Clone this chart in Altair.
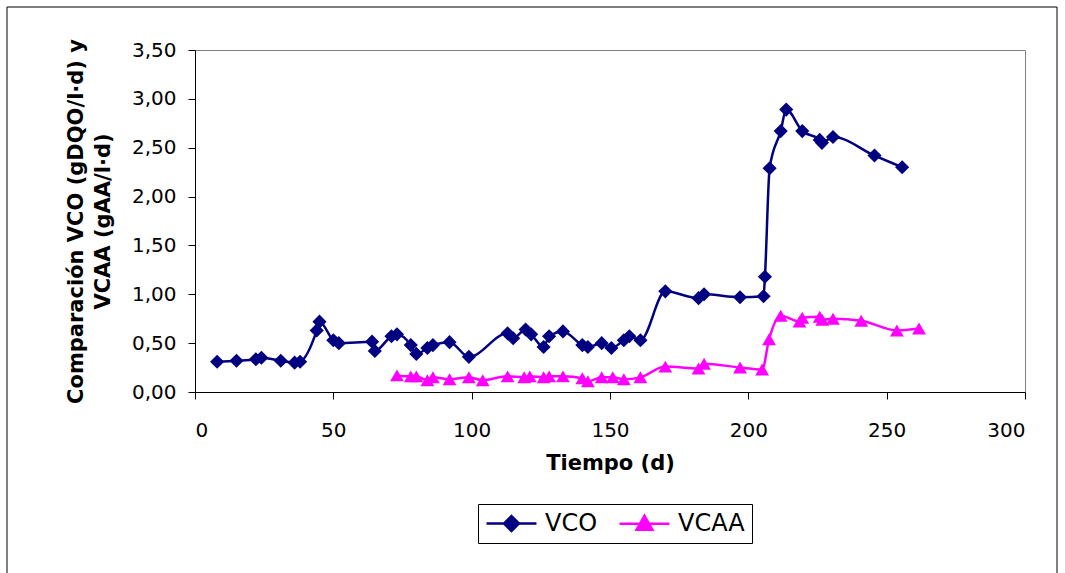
import altair as alt
import pandas as pd

# ---- data ----
vco_dias = [8, 15, 22, 24, 31, 36, 38, 44, 45, 50, 52, 64, 65, 71, 73, 78, 80, 84, 86, 92,
            99, 113, 115, 119.5, 121.5, 126, 128, 133, 140, 142, 147, 150.5, 155, 157, 161,
            170, 182, 184, 197, 205.5, 206, 207.7, 211.7, 213.7, 219.5, 225.8, 226.6, 230.6,
            245.6, 255.6]
vco_valores = [0.31, 0.32, 0.335, 0.35, 0.32, 0.30, 0.31, 0.63, 0.72, 0.53, 0.50, 0.515, 0.42,
               0.57, 0.59, 0.48, 0.39, 0.45, 0.48, 0.51, 0.36, 0.60, 0.55, 0.64, 0.59, 0.46,
               0.57, 0.62, 0.48, 0.46, 0.50, 0.45, 0.53, 0.57, 0.53, 1.03, 0.96, 1.00, 0.97,
               0.98, 1.18, 2.29, 2.67, 2.89, 2.67, 2.58, 2.55, 2.61, 2.42, 2.30]

vcaa_dias = [73, 78, 80, 84, 86, 92, 99, 104, 113, 119, 121, 126, 128, 133, 140, 142, 147, 151,
             155, 161, 170, 182, 184, 197, 205, 207.5, 211.7, 218.5, 219.5, 225.8, 226.7, 230.6,
             240.8, 253.7, 261.7]
vcaa_valores = [0.17, 0.16, 0.16, 0.12, 0.15, 0.13, 0.15, 0.12, 0.16, 0.15, 0.16, 0.15, 0.16,
                0.16, 0.14, 0.11, 0.15, 0.15, 0.13, 0.15, 0.26, 0.24, 0.29, 0.25, 0.23, 0.54,
                0.78, 0.72, 0.76, 0.77, 0.74, 0.75, 0.73, 0.63, 0.65]

series = ["VCO", "VCAA"]
colores = ["#000080", "#FF00FF"]
x_ticks = [0, 50, 100, 150, 200, 250, 300]
y_ticks = [0, 0.5, 1.0, 1.5, 2.0, 2.5, 3.0, 3.5]

df = pd.concat([
    pd.DataFrame({"dia": vco_dias, "valor": vco_valores, "serie": "VCO"}),
    pd.DataFrame({"dia": vcaa_dias, "valor": vcaa_valores, "serie": "VCAA"}),
], ignore_index=True)

FONT = "DejaVu Sans"

x_enc = alt.X("dia:Q", scale=alt.Scale(domain=[0, 300], nice=False, zero=False),
              axis=alt.Axis(values=x_ticks, title="Tiempo (d)", format="d",
                            labelPadding=21, titlePadding=12))
y_enc = alt.Y("valor:Q", scale=alt.Scale(domain=[0, 3.5], nice=False),
              axis=alt.Axis(values=y_ticks,
                            labelExpr="replace(format(datum.value, '.2f'), '.', ',')",
                            title=["Comparación VCO (gDQO/l·d) y", "VCAA (gAA/l·d)"],
                            labelPadding=12, titlePadding=18, titleLineHeight=27))

color_sc = alt.Scale(domain=series, range=colores)
base = alt.Chart(df)

lines = base.mark_line(interpolate="monotone", strokeWidth=2.5).encode(
    x=x_enc, y=y_enc,
    color=alt.Color("serie:N", scale=color_sc, legend=None),
)

diamonds = base.transform_filter("datum.serie == 'VCO'").mark_point(
    shape="diamond", filled=True, size=200, opacity=1, color="#000080"
).encode(x=x_enc, y=y_enc)

triangles = base.transform_filter("datum.serie == 'VCAA'").mark_point(
    shape="triangle-up", filled=True, size=190, opacity=1, color="#FF00FF"
).encode(x=x_enc, y=y_enc)

# legend symbols: line segment with the marker in the middle
path_vco = "M-2.27,0H2.27M0,-0.68L0.68,0L0,0.68L-0.68,0Z"
path_vcaa = "M-2.27,0H2.27M0,-0.72L0.72,0.55L-0.72,0.55Z"

leg = alt.Legend(title=None, orient="none", legendX=283, legendY=454, direction="horizontal",
                 labelFont=FONT, labelFontSize=24, labelColor="black", symbolSize=484,
                 symbolStrokeWidth=2.5, symbolOffset=14, labelOffset=21, columnPadding=16,
                 padding=7, strokeColor="black", fillColor="white", symbolOpacity=1)

legend_layer = base.transform_filter("datum.dia < 0").mark_point(
    filled=True, size=484, strokeWidth=2.5, opacity=1
).encode(
    x=x_enc, y=y_enc,
    color=alt.Color("serie:N", scale=alt.Scale(domain=series, range=colores), legend=leg),
    stroke=alt.Stroke("serie:N", scale=alt.Scale(domain=series, range=colores), legend=leg),
    shape=alt.Shape("serie:N", scale=alt.Scale(domain=series, range=[path_vco, path_vcaa]), legend=leg),
)

frame = alt.Chart(pd.DataFrame({"k": [0]})).mark_rect(
    fill="transparent", stroke="black", strokeWidth=1
).encode(x=alt.value(-188), x2=alt.value(862), y=alt.value(-43), y2=alt.value(600))

chart = alt.layer(frame, lines, diamonds, triangles, legend_layer).resolve_scale(
    color="independent", shape="independent", stroke="independent"
).properties(
    width=830, height=342,
    autosize=alt.AutoSizeParams(type="none"),
    padding={"left": 195, "top": 50, "right": 40, "bottom": 181},
    background="white",
).configure_view(
    stroke="#808080", strokeWidth=1
).configure_axis(
    grid=False, domainColor="black", tickColor="black", domainWidth=1, tickWidth=1,
    tickSize=7, labelFont=FONT, labelFontSize=20, labelColor="black",
    titleFont=FONT, titleFontSize=21, titleFontWeight="bold", titleColor="black",
)

chart.save("out.html", embed_options={"renderer": "svg", "actions": False})
